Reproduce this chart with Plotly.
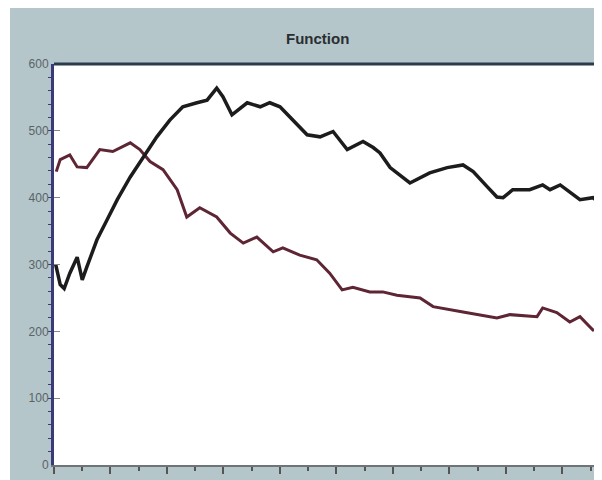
import plotly.graph_objects as go

# Black series (time index, value)
black_x = [0.3, 1.1, 1.8, 2.8, 4.1, 5.0, 5.8, 7.6, 9.4, 11.2, 13.5, 15.8, 18.2, 20.5,
           22.8, 25.3, 27.1, 28.8, 29.9, 31.5, 34.2, 36.5, 38.2, 40.0, 42.3, 44.8,
           47.1, 49.4, 51.9, 54.7, 56.5, 57.7, 59.5, 63.0, 66.5, 69.6, 72.4, 74.2,
           76.5, 78.4, 79.5, 81.2, 84.2, 86.5, 87.8, 89.6, 93.1, 95.4, 96.6, 97.5]
black_y = [300, 270, 264, 287, 311, 277, 296, 337, 367, 397, 431, 461, 491, 516,
           536, 542, 546, 564, 551, 524, 542, 536, 542, 536, 516, 494,
           491, 499, 472, 484, 475, 467, 445, 422, 437, 445, 449, 439,
           418, 401, 400, 412, 412, 419, 412, 419, 397, 400, 392, 394]

# Red series (time index, value)
red_x = [0.4, 1.1, 2.8, 4.1, 5.8, 8.1, 10.4, 13.5, 15.2, 17.0, 19.3, 21.8, 23.5,
         25.8, 28.8, 31.2, 33.5, 35.9, 38.8, 40.5, 43.5, 46.5, 48.8, 51.0, 52.9,
         55.9, 58.2, 60.7, 64.8, 67.1, 72.4, 75.4, 78.4, 80.7, 85.5, 86.5, 89.0,
         91.3, 93.1, 95.4, 97.5]
red_y = [439, 457, 464, 446, 445, 472, 469, 482, 472, 454, 442, 412, 371,
         385, 371, 347, 332, 341, 319, 325, 314, 307, 287, 262, 266,
         259, 259, 254, 250, 237, 229, 225, 220, 225, 222, 235, 228,
         214, 222, 202, 207]

y_tick_vals = [0, 100, 200, 300, 400, 500, 600]
y_tick_text = ["0", "100", "200", "300", "400", "500", "600"]

fig = go.Figure()
fig.add_trace(go.Scatter(x=red_x, y=red_y, mode="lines",
                         line=dict(color="#5e2534", width=3), showlegend=False))
fig.add_trace(go.Scatter(x=black_x, y=black_y, mode="lines",
                         line=dict(color="#1c1c1c", width=3.5), showlegend=False))

fig.update_layout(
    width=594, height=472,
    margin=dict(l=46, r=0, t=56, b=15),
    paper_bgcolor="white",
    plot_bgcolor="white",
    font=dict(family="Liberation Sans, Arial, sans-serif", color="#555"),
    shapes=[
        dict(type="rect", xref="paper", yref="paper", layer="below",
             x0=-44/548, x1=1.0, y0=-15/401, y1=457/401,
             fillcolor="#b4c6ca", line=dict(width=0)),
        dict(type="rect", xref="paper", yref="paper", layer="below",
             x0=0, x1=1.0, y0=0, y1=1,
             fillcolor="white", line=dict(width=0)),
        dict(type="line", xref="paper", yref="paper",
             x0=0, x1=1.0, y0=1, y1=1,
             line=dict(color="#2a3c4c", width=3)),
    ],
    annotations=[
        dict(text="<b>Function</b>", xref="paper", yref="paper",
             x=(317-54)/548, y=(465-38)/401, xanchor="center", yanchor="middle",
             showarrow=False, font=dict(size=15, color="#2a2e32",
                                         family="Liberation Sans, Arial, sans-serif")),
    ],
)

fig.update_xaxes(range=[0, 97], showgrid=False, zeroline=False,
                 showline=True, linecolor="#6e7478", linewidth=2,
                 ticks="outside", tickcolor="#555", ticklen=7, tickwidth=2,
                 dtick=10, tick0=0, showticklabels=False,
                 minor=dict(ticks="outside", ticklen=4, tickcolor="#555",
                            dtick=5, tick0=0))
fig.update_yaxes(range=[0, 600], showgrid=False, zeroline=False,
                 showline=True, linecolor="#3a3a78", linewidth=3,
                 ticks="inside", tickcolor="#888", ticklen=6,
                 tickvals=y_tick_vals, ticktext=y_tick_text,
                 tickfont=dict(size=12, color="#5a6468"),
                 minor=dict(ticks="outside", ticklen=3, tickcolor="#3a3a78",
                            dtick=20, tick0=0))

fig.write_html("out.html")
